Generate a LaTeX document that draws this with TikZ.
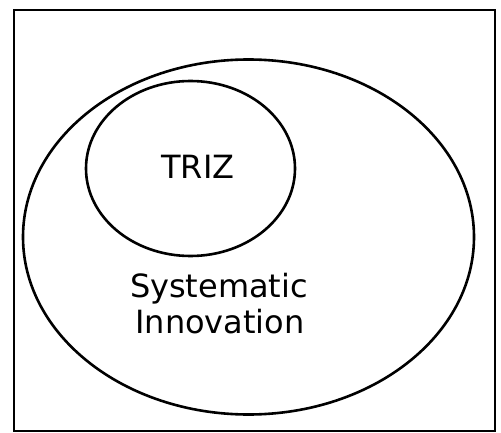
\documentclass[tikz,border=0pt]{standalone}
\usepackage{fontspec}
\setmainfont{DejaVu Sans}
\begin{document}
\begin{tikzpicture}[x=1pt,y=1pt,
  shapeline/.style={draw=black,line width=2.6pt},
  lbl/.style={font=\fontsize{32}{36}\selectfont,inner sep=0pt,anchor=base}]
\useasboundingbox (0,0) rectangle (501,432);
\draw[shapeline] (14,1) rectangle (495,422) coordinate (frame);
\draw[shapeline] (248.5,195) ellipse [x radius=225.5, y radius=177.5];
\draw[shapeline] (190.5,263.5) ellipse [x radius=104.5, y radius=87.5];
\node[lbl] (triz) at (198,254) {TRIZ};
\node[lbl] (sys) at (219,135) {Systematic};
\node[lbl] (inn) at (220,99) {Innovation};
\end{tikzpicture}
\end{document}
